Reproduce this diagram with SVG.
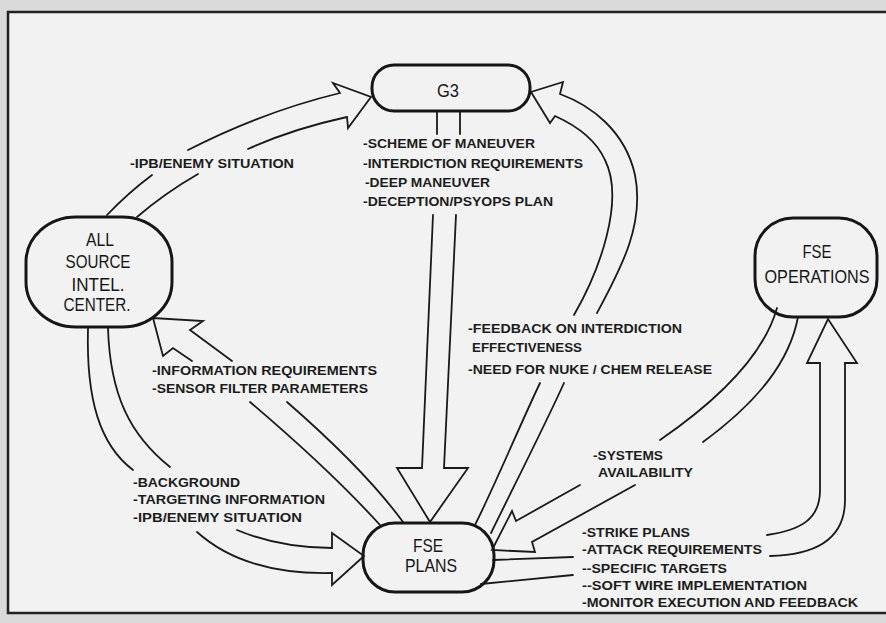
<svg xmlns="http://www.w3.org/2000/svg" width="886" height="623" viewBox="0 0 886 623">
<style>
.node{fill:none;stroke:#161616;stroke-width:3}
.c{fill:none;stroke:#1a1a1a;stroke-width:1.8;stroke-linejoin:miter;stroke-linecap:round}
.lbl{font-family:"Liberation Sans",Arial,sans-serif;font-weight:bold;font-size:13px;fill:#1c1c1c}
.nt{font-family:"Liberation Sans",Arial,sans-serif;font-size:18px;fill:#161616;text-anchor:middle}
</style>
<rect x="0" y="0" width="886" height="623" fill="#dadada"/>
<rect x="8" y="12" width="890" height="601" fill="#f2f2f2" stroke="#222" stroke-width="2.5"/>

<g id="connectors">
  <!-- G3 -> FSE PLANS -->
  <path class="c" d="M437,112 V134 M460,112 V134"/>
  <path class="c" d="M433,215 L422,468 L397,468 L430,522 L468,468 L444,468 L456,215"/>
  <!-- ALL SOURCE -> G3 (IPB) -->
  <path class="c" d="M107,215 Q128,193 152,175 M137,217 Q165,193 198,174"/>
  <path class="c" d="M188,150 Q262,112 340,93 L333,83 L371,97 L348,128 L347,117 Q292,129 248,149"/>
  <!-- FSE PLANS -> G3 (feedback) -->
  <path class="c" d="M475,525 C495,485 520,425 540,383 M491,533 C512,490 545,425 564,383"/>
  <path class="c" d="M574,315 C600,270 625,200 605,160 C595,138 575,125 555,116 L550,123 L531,92 L563,82 L560,94 C590,105 625,130 635,175 C645,225 620,270 597,313"/>
  <!-- ALL SOURCE -> FSE PLANS -->
  <path class="c" d="M88,328 C86,400 100,445 133,470 M108,328 C110,395 130,435 170,467"/>
  <path class="c" d="M237,530 Q280,548 332,548 L332,533 L364,556 L332,585 L332,573 Q245,575 197,532"/>
  <!-- FSE PLANS -> ALL SOURCE -->
  <path class="c" d="M380,525 Q330,470 250,402 M403,522 Q365,470 287,402"/>
  <path class="c" d="M192,361 L173,348 L163,356 L153,318 L203,321 L190,330 L232,361"/>
  <!-- FSE OPERATIONS -> FSE PLANS -->
  <path class="c" d="M777,308 C768,340 740,385 660,440 M798,317 C790,360 760,400 703,442"/>
  <path class="c" d="M580,485 L516,521 L512,511 L492,550 L535,552 L532,542 L635,485"/>
  <!-- FSE PLANS -> FSE OPERATIONS -->
  <path class="c" d="M493,560 L573,557 M481,584 L573,575"/>
  <path class="c" d="M767,535 C800,530 820,520 820,490 L820,363 L807,363 L828,319 L857,363 L845,363 L845,500 C845,540 815,555 770,556"/>
</g>

<g id="labels">
  <text class="lbl" x="130" y="168" textLength="164" lengthAdjust="spacingAndGlyphs">-IPB/ENEMY SITUATION</text>
  <text class="lbl" x="363" y="148" textLength="172" lengthAdjust="spacingAndGlyphs">-SCHEME OF MANEUVER</text>
  <text class="lbl" x="363" y="168" textLength="220" lengthAdjust="spacingAndGlyphs">-INTERDICTION REQUIREMENTS</text>
  <text class="lbl" x="365" y="187" textLength="125" lengthAdjust="spacingAndGlyphs">-DEEP MANEUVER</text>
  <text class="lbl" x="363" y="206" textLength="190" lengthAdjust="spacingAndGlyphs">-DECEPTION/PSYOPS PLAN</text>
  <text class="lbl" x="152" y="375" textLength="225" lengthAdjust="spacingAndGlyphs">-INFORMATION REQUIREMENTS</text>
  <text class="lbl" x="152" y="393" textLength="216" lengthAdjust="spacingAndGlyphs">-SENSOR FILTER PARAMETERS</text>
  <text class="lbl" x="468" y="333" textLength="214" lengthAdjust="spacingAndGlyphs">-FEEDBACK ON INTERDICTION</text>
  <text class="lbl" x="472" y="352" textLength="110" lengthAdjust="spacingAndGlyphs">EFFECTIVENESS</text>
  <text class="lbl" x="468" y="374" textLength="244" lengthAdjust="spacingAndGlyphs">-NEED FOR NUKE / CHEM RELEASE</text>
  <text class="lbl" x="133" y="487" textLength="107" lengthAdjust="spacingAndGlyphs">-BACKGROUND</text>
  <text class="lbl" x="133" y="504" textLength="192" lengthAdjust="spacingAndGlyphs">-TARGETING INFORMATION</text>
  <text class="lbl" x="133" y="522" textLength="169" lengthAdjust="spacingAndGlyphs">-IPB/ENEMY SITUATION</text>
  <text class="lbl" x="593" y="460" textLength="70" lengthAdjust="spacingAndGlyphs">-SYSTEMS</text>
  <text class="lbl" x="598" y="477" textLength="95" lengthAdjust="spacingAndGlyphs">AVAILABILITY</text>
  <text class="lbl" x="582" y="537" textLength="108" lengthAdjust="spacingAndGlyphs">-STRIKE PLANS</text>
  <text class="lbl" x="582" y="554" textLength="180" lengthAdjust="spacingAndGlyphs">-ATTACK REQUIREMENTS</text>
  <text class="lbl" x="582" y="573" textLength="145" lengthAdjust="spacingAndGlyphs">--SPECIFIC TARGETS</text>
  <text class="lbl" x="582" y="590" textLength="225" lengthAdjust="spacingAndGlyphs">--SOFT WIRE IMPLEMENTATION</text>
  <text class="lbl" x="582" y="607" textLength="276" lengthAdjust="spacingAndGlyphs">-MONITOR EXECUTION AND FEEDBACK</text>
</g>

<g id="g3">
  <rect class="node" x="372" y="65" width="158" height="46" rx="22" ry="22"/>
  <text class="nt" x="448" y="97" textLength="22" lengthAdjust="spacingAndGlyphs">G3</text>
</g>
<g id="all-source">
  <rect class="node" x="26" y="217" width="146" height="110" rx="50" ry="45"/>
  <text class="nt" x="100" y="246" textLength="28" lengthAdjust="spacingAndGlyphs">ALL</text>
  <text class="nt" x="98" y="268" textLength="65" lengthAdjust="spacingAndGlyphs">SOURCE</text>
  <text class="nt" x="98" y="291" textLength="53" lengthAdjust="spacingAndGlyphs">INTEL.</text>
  <text class="nt" x="97" y="311" textLength="67" lengthAdjust="spacingAndGlyphs">CENTER.</text>
</g>
<g id="fse-operations">
  <rect class="node" x="755" y="218" width="122" height="99" rx="38" ry="38"/>
  <text class="nt" x="817" y="258" textLength="29" lengthAdjust="spacingAndGlyphs">FSE</text>
  <text class="nt" x="817" y="283" textLength="105" lengthAdjust="spacingAndGlyphs">OPERATIONS</text>
</g>
<g id="fse-plans">
  <rect class="node" x="363" y="523" width="131" height="69" rx="32" ry="32"/>
  <text class="nt" x="428" y="552" textLength="30" lengthAdjust="spacingAndGlyphs">FSE</text>
  <text class="nt" x="431" y="572" textLength="52" lengthAdjust="spacingAndGlyphs">PLANS</text>
</g>
</svg>
